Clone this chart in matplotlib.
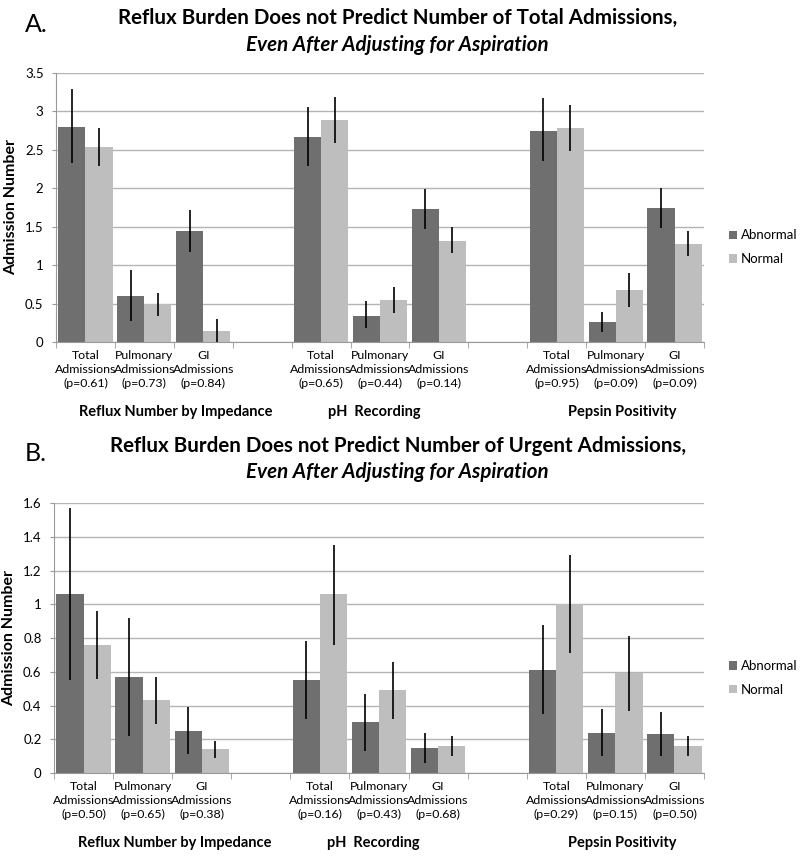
import numpy as np
import matplotlib.pyplot as plt

plt.rcParams['font.family'] = ['Lato', 'DejaVu Sans']

tests = ['Reflux Number by Impedance', 'pH  Recording', 'Pepsin Positivity']
kinds = ['Total', 'Pulmonary', 'GI']
series = ['Abnormal', 'Normal']

# panel A - total admissions
a_pvals = ['0.61', '0.73', '0.84', '0.65', '0.44', '0.14', '0.95', '0.09', '0.09']
a_abn = [2.80, 0.60, 1.44, 2.67, 0.34, 1.73, 2.75, 0.26, 1.74]
a_abn_lo = [2.33, 0.27, 1.17, 2.29, 0.18, 1.47, 2.35, 0.13, 1.48]
a_abn_hi = [3.29, 0.94, 1.72, 3.06, 0.53, 1.99, 3.17, 0.39, 2.01]
a_nor = [2.54, 0.49, 0.14, 2.89, 0.55, 1.31, 2.78, 0.68, 1.27]
a_nor_lo = [2.29, 0.34, 0.00, 2.59, 0.38, 1.16, 2.48, 0.45, 1.12]
a_nor_hi = [2.79, 0.64, 0.30, 3.19, 0.71, 1.49, 3.08, 0.90, 1.44]

# panel B - urgent admissions
b_pvals = ['0.50', '0.65', '0.38', '0.16', '0.43', '0.68', '0.29', '0.15', '0.50']
b_abn = [1.06, 0.57, 0.25, 0.55, 0.30, 0.15, 0.61, 0.24, 0.23]
b_abn_lo = [0.55, 0.22, 0.11, 0.32, 0.13, 0.06, 0.35, 0.10, 0.10]
b_abn_hi = [1.57, 0.92, 0.39, 0.78, 0.47, 0.24, 0.88, 0.38, 0.36]
b_nor = [0.76, 0.43, 0.14, 1.06, 0.49, 0.16, 1.00, 0.59, 0.16]
b_nor_lo = [0.56, 0.29, 0.09, 0.76, 0.32, 0.10, 0.71, 0.37, 0.10]
b_nor_hi = [0.96, 0.57, 0.19, 1.35, 0.66, 0.22, 1.29, 0.81, 0.22]

DARK = '#6f6f6f'
LIGHT = '#bebebe'
GRID = '#b4b4b4'


def panel(ax, pvals, abn, abn_lo, abn_hi, nor, nor_lo, nor_hi, ymax, ystep):
    # 3 slots per test, one empty slot between tests
    pos = []
    for g in range(len(tests)):
        pos += [g * 4 + k for k in range(len(kinds))]
    pos = np.array(pos, dtype=float)
    w = 0.46
    ax.bar(pos - w / 2, abn, w, color=DARK, label=series[0], zorder=2)
    ax.bar(pos + w / 2, nor, w, color=LIGHT, label=series[1], zorder=2)
    ax.vlines(pos - w / 2, abn_lo, abn_hi, color='black', lw=1.2, zorder=3)
    ax.vlines(pos + w / 2, nor_lo, nor_hi, color='black', lw=1.2, zorder=3)

    ax.set_xlim(-0.5, 10.5)
    ax.set_ylim(0, ymax)
    yt = np.arange(0, ymax + ystep / 2, ystep)
    ax.set_yticks(yt)
    ax.set_yticklabels(['%g' % v for v in yt], fontsize=9.5)
    ax.yaxis.grid(True, color=GRID, lw=1)
    ax.set_axisbelow(True)
    for s in ['top', 'right']:
        ax.spines[s].set_visible(False)
    ax.spines['left'].set_color('#999999')
    ax.spines['bottom'].set_color('#999999')

    labels = ['%s\nAdmissions\n(p=%s)' % (kinds[i % 3], p) for i, p in enumerate(pvals)]
    ax.set_xticks(pos)
    ax.set_xticklabels(labels, fontsize=8.9, linespacing=1.3)
    ax.tick_params(axis='x', length=0, pad=6)
    ax.set_xticks(np.arange(-0.5, 11, 1), minor=True)
    ax.tick_params(axis='x', which='minor', length=4, color='#999999')
    ax.tick_params(axis='y', length=3, color='#999999', pad=6)

    ax.set_ylabel('Admission Number', fontsize=11.5, fontweight='bold', labelpad=5)

    for x, t in zip([1.54, 4.9, 9.12], tests):
        ax.text(x, -0.26, t, transform=ax.get_xaxis_transform(), ha='center',
                va='center', fontsize=10.5, fontweight='bold')

    ax.legend(loc='center left', bbox_to_anchor=(1.02, 0.352), frameon=False,
              fontsize=9.5, handlelength=0.6, handleheight=0.6, handletextpad=0.3,
              labelspacing=0.9)


fig = plt.figure(figsize=(8, 8.57), dpi=100)

axA = fig.add_axes([0.07, 0.601, 0.81, 0.3138])
panel(axA, a_pvals, a_abn, a_abn_lo, a_abn_hi, a_nor, a_nor_lo, a_nor_hi, 3.5, 0.5)

axB = fig.add_axes([0.0675, 0.098, 0.8125, 0.315])
panel(axB, b_pvals, b_abn, b_abn_lo, b_abn_hi, b_nor, b_nor_lo, b_nor_hi, 1.6, 0.2)

fig.text(0.031, 1 - 24 / 857, 'A.', fontsize=18, va='center')
fig.text(0.497, 1 - 18 / 857, 'Reflux Burden Does not Predict Number of Total Admissions,',
         fontsize=14.8, fontweight='bold', ha='center', va='center')
fig.text(0.497, 1 - 45 / 857, 'Even After Adjusting for Aspiration',
         fontsize=14.8, fontweight='bold', style='italic', ha='center', va='center')

fig.text(0.031, 1 - 453 / 857, 'B.', fontsize=18, va='center')
fig.text(0.497, 1 - 446 / 857, 'Reflux Burden Does not Predict Number of Urgent Admissions,',
         fontsize=14.8, fontweight='bold', ha='center', va='center')
fig.text(0.497, 1 - 472 / 857, 'Even After Adjusting for Aspiration',
         fontsize=14.8, fontweight='bold', style='italic', ha='center', va='center')

fig.savefig('out.png', dpi=100)
